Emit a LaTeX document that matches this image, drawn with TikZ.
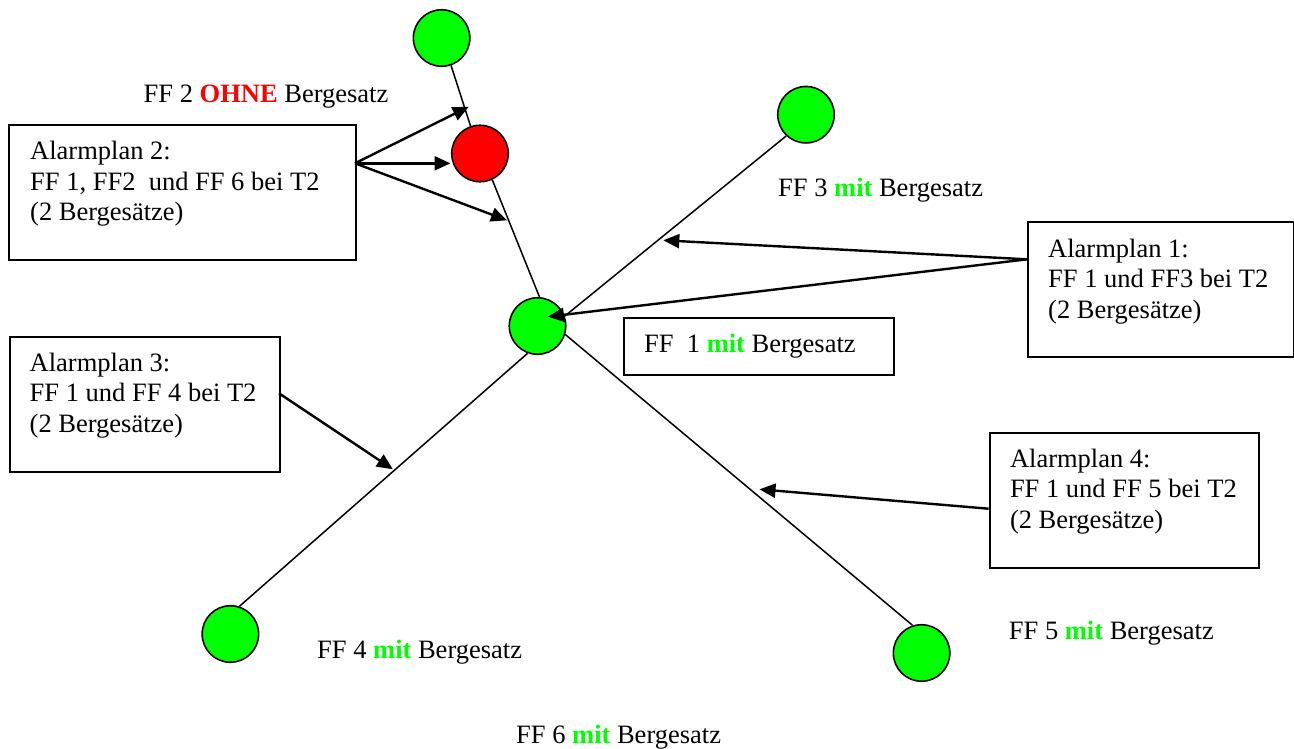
\documentclass[tikz,border=0pt]{standalone}
\usepackage{fontspec}
\setmainfont{Liberation Serif}
\usetikzlibrary{arrows.meta}
\definecolor{ffgreen}{RGB}{0,255,0}
\definecolor{ffred}{RGB}{255,0,0}
\newcommand{\mitw}{\textbf{\textcolor{ffgreen}{mit}}}
\begin{document}
\begin{tikzpicture}[x=1pt,y=-1pt,
  station/.style={circle, draw, line width=1.6pt, minimum size=56.5pt, inner sep=0pt, fill=ffgreen},
  redstation/.style={station, fill=ffred},
  box/.style={draw, line width=2pt, inner sep=0pt, anchor=north west},
  txt/.style={font=\fontsize{26.5}{30.5}\selectfont, inner sep=0pt},
  multi/.style={txt, align=left, anchor=north west},
  single/.style={txt, anchor=base west},
  link/.style={line width=1.5pt},
  alarm/.style={line width=2.4pt, -{Triangle[length=16pt,width=14pt]}}
]
\useasboundingbox (0,0) rectangle (1294,748);

% stations
\node[station] (ff6) at (441.6,38) {};
\node[redstation] (ff2) at (480,153.5) {};
\node[station] (ff1) at (537.5,326) {};
\node[station] (ff3) at (806,114.7) {};
\node[station] (ff4) at (230.4,634) {};
\node[station] (ff5) at (921.6,653) {};

% links
\draw[link] (ff6.-71) -- (ff2.109);
\draw[link] (ff2.-65) -- (ff1.86);
\draw[link] (ff3.-133) -- (ff1.20);
\draw[link] (ff1.-110) -- (ff4.72);
\draw[link] (ff1.-17.5) -- (ff5.108);

% boxes
\node[box, minimum width=346.6pt, minimum height=135pt] (ap2) at (8.4,124.3) {};
\node[multi] (ap2t) at (30,141.2) {Alarmplan 2:\\FF 1, FF2\ \ und FF 6 bei T2\\(2 Bergesätze)};

\node[box, minimum width=266pt, minimum height=134.7pt] (ap1) at (1027,221) {};
\node[multi] (ap1t) at (1048,238.6) {Alarmplan 1:\\FF 1 und FF3 bei T2\\(2 Bergesätze)};

\node[box, minimum width=270pt, minimum height=57.6pt] (ff1b) at (623,316.7) {};
\node[single] (ff1t) at (644,352.7) {FF\ \ 1 \mitw{} Bergesatz};

\node[box, minimum width=270pt, minimum height=135.3pt] (ap3) at (8.9,335.7) {};
\node[multi] (ap3t) at (29.5,352.6) {Alarmplan 3:\\FF 1 und FF 4 bei T2\\(2 Bergesätze)};

\node[box, minimum width=269.4pt, minimum height=134.7pt] (ap4) at (988.6,432) {};
\node[multi] (ap4t) at (1009.8,448.6) {Alarmplan 4:\\FF 1 und FF 5 bei T2\\(2 Bergesätze)};

% labels
\node[single] (l2) at (143.5,102) {FF 2 \textbf{\textcolor{ffred}{OHNE}} Bergesatz};
\node[single] (l3) at (778,196.7) {FF 3 \mitw{} Bergesatz};
\node[single] (l4) at (317,658) {FF 4 \mitw{} Bergesatz};
\node[single] (l5) at (1008.7,639.3) {FF 5 \mitw{} Bergesatz};
\node[single] (l6) at (516,743.3) {FF 6 \mitw{} Bergesatz};

% arrow coordinates
\coordinate (a2s) at (355,163.3);
\coordinate (a2t1) at (468.8,106.7);
\coordinate (a2t2) at (450.5,163.3);
\coordinate (a2t3) at (507,220.3);
\coordinate (a1s) at (1027,259.3);
\coordinate (a1t1) at (663.3,240.3);
\coordinate (a1t2) at (548,316.7);
\coordinate (a3s) at (279,393.3);
\coordinate (a3t) at (392.9,469.3);
\coordinate (a4s) at (988.6,508.7);
\coordinate (a4t) at (759.5,489.3);

% arrows
\draw[alarm] (a2s) -- (a2t1);
\draw[alarm] (a2s) -- (a2t2);
\draw[alarm] (a2s) -- (a2t3);
\draw[alarm] (a1s) -- (a1t1);
\draw[alarm] (a1s) -- (a1t2);
\draw[alarm] (a3s) -- (a3t);
\draw[alarm] (a4s) -- (a4t);
\end{tikzpicture}
\end{document}
